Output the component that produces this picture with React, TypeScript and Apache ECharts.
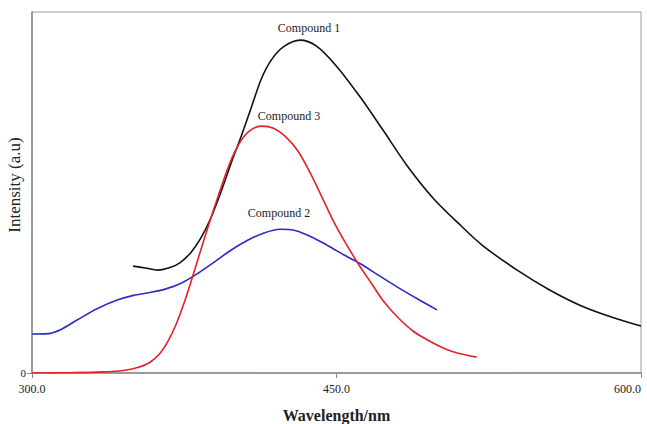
import React, { useEffect, useRef } from "react";
import * as echarts from "echarts";

const xTicks = [300, 450, 600];

const compound1: [number, number][] = [
  [349.8, 29.6], [355.7, 29.1], [362.0, 28.5], [368.0, 29.2], [373.0, 30.6],
  [378.0, 33.2], [383.0, 37.2], [388.0, 42.8], [393.0, 50.0], [398.0, 58.0],
  [403.0, 65.5], [408.0, 73.5], [413.0, 81.5], [418.0, 86.8], [424.0, 90.4],
  [432.0, 92.2], [440.0, 90.6], [450.0, 85.0], [461.6, 76.5], [472.9, 67.3],
  [484.7, 57.5], [497.5, 48.5], [510.0, 41.5], [522.0, 35.3], [539.0, 28.5],
  [555.0, 23.0], [571.0, 18.5], [588.0, 15.0], [600.0, 13.0],
];

const compound2: [number, number][] = [
  [300.0, 10.8], [308.0, 10.9], [314.0, 12.0], [322.0, 14.6], [332.0, 17.8],
  [342.0, 20.2], [350.0, 21.5], [358.0, 22.3], [366.0, 23.3], [374.0, 25.0],
  [382.0, 27.7], [390.0, 30.8], [398.0, 34.0], [406.0, 36.7], [414.0, 38.7],
  [422.0, 39.8], [430.0, 39.4], [438.0, 37.6], [446.0, 35.2], [454.0, 32.6],
  [462.0, 30.2], [470.0, 27.3], [480.0, 23.8], [490.0, 20.5], [499.5, 17.5],
];

const compound3: [number, number][] = [
  [300.0, 0.0], [320.0, 0.1], [335.0, 0.3], [345.0, 0.7], [352.0, 1.5],
  [358.0, 2.9], [363.0, 5.4], [367.0, 8.8], [371.0, 13.5], [375.0, 19.5],
  [379.0, 26.5], [383.0, 33.8], [387.0, 41.0], [392.0, 49.5], [397.0, 57.5],
  [402.0, 63.5], [407.0, 67.0], [413.0, 68.4], [419.0, 67.8], [425.0, 65.4],
  [431.0, 61.5], [437.0, 55.5], [443.0, 48.5], [449.0, 41.5], [455.0, 35.5],
  [461.0, 30.0], [467.0, 25.0], [473.0, 20.0], [480.0, 15.5], [488.0, 11.5],
  [496.0, 8.8], [504.0, 6.6], [512.0, 5.2], [519.0, 4.4],
];

const seriesNames = ["Compound 1", "Compound 2", "Compound 3"];
const yName = "Intensity (a.u)";
const FONT = "'Liberation Serif', 'DejaVu Serif', serif";

export default function App() {
  const ref = useRef<HTMLDivElement>(null);
  useEffect(() => {
    if (!ref.current) return;
    const chart = echarts.init(ref.current, undefined, { renderer: "svg" });
    chart.setOption({
      animation: false,
      backgroundColor: "#ffffff",
      grid: {
        left: 32,
        right: 6,
        top: 12,
        bottom: 51,
        containLabel: false,
        outerBoundsMode: "none",
        show: true,
        borderColor: "#9a9a9a",
        borderWidth: 1,
      },
      xAxis: {
        type: "value",
        min: 300,
        max: 600,
        interval: 150,
        name: "Wavelength/nm",
        nameLocation: "middle",
        nameGap: 34,
        nameTextStyle: { fontFamily: FONT, fontSize: 16, fontWeight: "bold", color: "#222" },
        axisLine: { show: true, lineStyle: { color: "#8a8a8a", width: 1.5 } },
        axisTick: { show: true, length: 5, lineStyle: { color: "#8a8a8a" }, customValues: xTicks },
        axisLabel: {
          fontFamily: FONT,
          fontSize: 12,
          color: "#222",
          margin: 10,
          customValues: xTicks,
          alignMaxLabel: "right",
          formatter: (v: number) => v.toFixed(1),
        },
        splitLine: { show: false },
      },
      yAxis: {
        type: "value",
        min: 0,
        max: 100,
        interval: 100,
        axisLine: { show: true, lineStyle: { color: "#8a8a8a", width: 1.5 } },
        axisTick: { show: true, length: 5, lineStyle: { color: "#8a8a8a" }, customValues: [0] },
        axisLabel: { fontFamily: FONT, fontSize: 11, color: "#222", margin: 6, customValues: [0] },
        splitLine: { show: false },
      },
      series: [
        {
          name: seriesNames[0],
          type: "line",
          data: compound1,
          smooth: 0.3,
          symbol: "none",
          lineStyle: { color: "#111111", width: 1.6 },
        },
        {
          name: seriesNames[1],
          type: "line",
          data: compound2,
          smooth: 0.3,
          symbol: "none",
          lineStyle: { color: "#2b2bc8", width: 1.6 },
        },
        {
          name: seriesNames[2],
          type: "line",
          data: compound3,
          smooth: 0.3,
          symbol: "none",
          lineStyle: { color: "#e42128", width: 1.6 },
        },
      ],
      graphic: [
        {
          type: "text",
          x: 14,
          y: 185,
          rotation: Math.PI / 2,
          style: { text: yName, font: `17px ${FONT}`, fill: "#222", textAlign: "center", textVerticalAlign: "middle" },
        },
        {
          type: "text",
          x: 309,
          y: 28,
          style: { text: seriesNames[0], font: `12px ${FONT}`, fill: "#222", textAlign: "center", textVerticalAlign: "middle" },
        },
        {
          type: "text",
          x: 289,
          y: 116,
          style: { text: seriesNames[2], font: `12px ${FONT}`, fill: "#222", textAlign: "center", textVerticalAlign: "middle" },
        },
        {
          type: "text",
          x: 279,
          y: 213,
          style: { text: seriesNames[1], font: `12px ${FONT}`, fill: "#222", textAlign: "center", textVerticalAlign: "middle" },
        },
      ],
    });
    return () => chart.dispose();
  }, []);
  return <div ref={ref} style={{ width: 647, height: 424, position: "fixed", left: 0, top: 0 }} />;
}
